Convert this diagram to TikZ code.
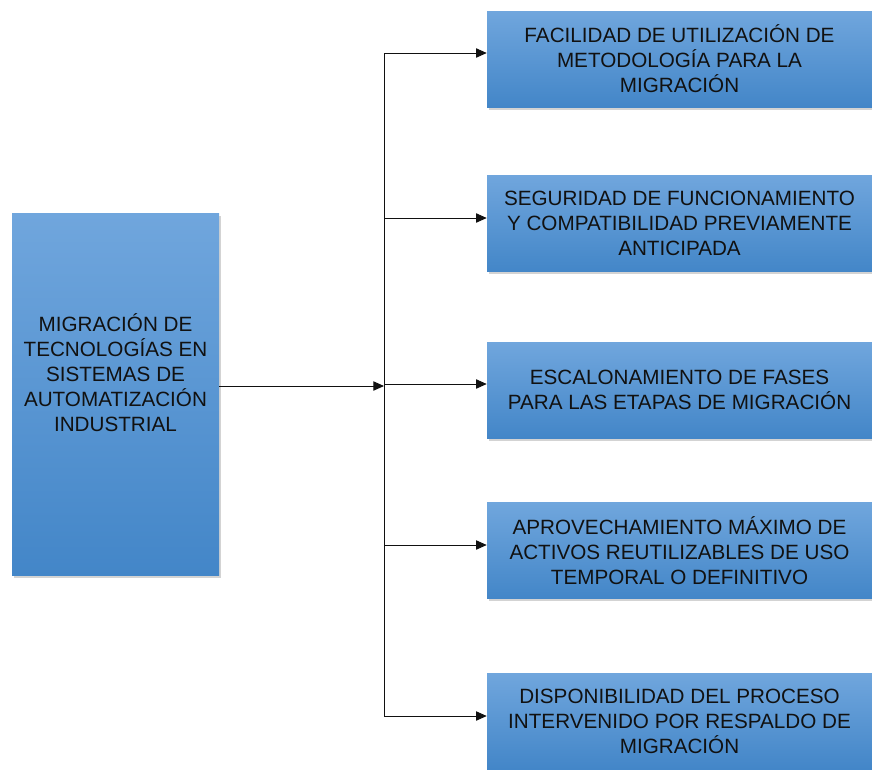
\documentclass[tikz,border=0pt]{standalone}
\usepackage{fontspec}
\setmainfont{Liberation Sans}
\usepackage{tikz}
\usetikzlibrary{arrows.meta,shadows}
\definecolor{boxTop}{HTML}{70A6DD}
\definecolor{boxBottom}{HTML}{4386C8}
\definecolor{ink}{HTML}{111111}
\tikzset{
  blueBox/.style={rectangle, top color=boxTop, bottom color=boxBottom, draw=none,
    drop shadow={shadow xshift=1.5pt, shadow yshift=-2pt, opacity=0.35},
    inner sep=0pt, align=center, text=ink,
    font=\fontsize{15.5}{18.75}\selectfont},
  itemBox/.style={blueBox, minimum width=288.75pt, minimum height=72pt},
  mainBox/.style={blueBox, minimum width=155.25pt, minimum height=271.5pt},
  boxText/.style={align=center, text=ink, inner sep=0pt,
    font=\fontsize{15.5}{18.75}\selectfont},
  link/.style={draw=ink, line width=0.7pt, -{Triangle[length=8pt,width=7pt]}},
  spine/.style={draw=ink, line width=0.7pt}
}

\begin{document}
\begin{tikzpicture}[x=0.75pt, y=-0.75pt]
  \useasboundingbox (0,0) rectangle (872,769);
  \clip (0,0) rectangle (872,769);

  % left block
  \node[mainBox] (main) at (115.5,394) {};
  \node[boxText] (mainText) at (115.5,373)
    {MIGRACIÓN DE\\TECNOLOGÍAS EN\\SISTEMAS DE\\AUTOMATIZACIÓN\\INDUSTRIAL};

  % right blocks
  \node[itemBox] (b1) at (679.5,59)
    {FACILIDAD DE UTILIZACIÓN DE\\METODOLOGÍA PARA LA\\MIGRACIÓN};
  \node[itemBox] (b2) at (679.5,223.5)
    {SEGURIDAD DE FUNCIONAMIENTO\\Y COMPATIBILIDAD PREVIAMENTE\\ANTICIPADA};
  \node[itemBox] (b3) at (679.5,390)
    {ESCALONAMIENTO DE FASES\\PARA LAS ETAPAS DE MIGRACIÓN};
  \node[itemBox] (b4) at (679.5,550.5)
    {APROVECHAMIENTO MÁXIMO DE\\ACTIVOS REUTILIZABLES DE USO\\TEMPORAL O DEFINITIVO};
  \node[itemBox] (b5) at (679.5,721)
    {DISPONIBILIDAD DEL PROCESO\\INTERVENIDO POR RESPALDO DE\\MIGRACIÓN};

  % branch points on the spine
  \coordinate (j1) at (384,53);
  \coordinate (j2) at (384,218);
  \coordinate (j3) at (384,384);
  \coordinate (j4) at (384,545);
  \coordinate (j5) at (384,716);
  \coordinate (hub) at (384,386);

  \draw[spine] (j1) -- (j5);
  \draw[link] (main.east |- hub) -- (hub);
  \foreach \i in {1,...,5}
    \draw[link] (j\i) -- (j\i -| b\i.west);
\end{tikzpicture}
\end{document}
